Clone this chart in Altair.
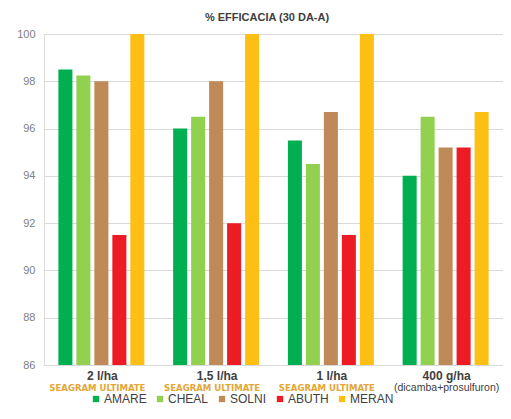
import altair as alt
import pandas as pd

groups = ["2 l/ha", "1,5 l/ha", "1  l/ha", "400 g/ha"]
sublabels = ["SEAGRAM ULTIMATE", "SEAGRAM ULTIMATE", "SEAGRAM ULTIMATE", "(dicamba+prosulfuron)"]
series = ["AMARE", "CHEAL", "SOLNI", "ABUTH", "MERAN"]
colors = ["#00b050", "#92d050", "#c08a58", "#ed1c24", "#fdbf14"]

amare = [98.5, 96.0, 95.5, 94.0]
cheal = [98.25, 96.5, 94.5, 96.5]
solni = [98.0, 98.0, 96.7, 95.2]
abuth = [91.5, 92.0, 91.5, 95.2]
meran = [100.0, 100.0, 100.0, 96.7]

vals = [amare, cheal, solni, abuth, meran]
rows = []
for s, v in zip(series, vals):
    for g, x in zip(groups, v):
        rows.append({"group": g, "series": s, "value": x, "base": 86})
df = pd.DataFrame(rows)
lab = pd.DataFrame({"group": groups, "sub": sublabels,
                    "subcolor": ["gold", "gold", "gold", "gray"]})

W, H = 459, 331

xscale = alt.Scale(domain=groups, paddingInner=0, paddingOuter=0)

bars = alt.Chart(df).mark_bar().encode(
    x=alt.X("group:N", scale=xscale, sort=groups, axis=None),
    xOffset=alt.XOffset("series:N", sort=series,
                        scale=alt.Scale(domain=series, paddingInner=0.22, paddingOuter=0.8)),
    y=alt.Y("value:Q", scale=alt.Scale(domain=[86, 100], zero=False, nice=False),
            axis=alt.Axis(values=list(range(86, 101, 2)), title=None, domain=False, ticks=False,
                          labelColor="#808080", labelFontSize=11, labelPadding=9,
                          labelFont="Liberation Sans", gridColor="#d9d9d9", gridWidth=1)),
    y2="base:Q",
    color=alt.Color("series:N", sort=series,
                    scale=alt.Scale(domain=series, range=colors),
                    legend=alt.Legend(title=None, orient="none", direction="horizontal",
                                      legendX=46, legendY=H + 28, symbolType="square",
                                      symbolSize=40, symbolStrokeWidth=0, labelFontSize=12,
                                      labelColor="#404040", labelFont="Liberation Sans",
                                      gridAlign="none", columnPadding=7, labelOffset=2,
                                      padding=0)),
)

line1 = alt.Chart(lab).mark_text(fontWeight="bold", fontSize=12, color="#404040",
                                 font="Liberation Sans", baseline="middle", dx=1).encode(
    x=alt.X("group:N", scale=xscale, sort=groups, axis=None),
    y=alt.value(H + 11),
    text="group:N",
)

sub_gold = alt.Chart(lab[lab.subcolor == "gold"]).mark_text(
    fontWeight="bold", fontSize=9.5, color="#e4a634", font="DejaVu Sans Condensed",
    baseline="middle", dx=-4).encode(
    x=alt.X("group:N", scale=xscale, sort=groups, axis=None),
    y=alt.value(H + 23),
    text="sub:N",
)
sub_gray = alt.Chart(lab[lab.subcolor == "gray"]).mark_text(
    fontSize=10.5, color="#404040", font="Liberation Sans", baseline="middle", dx=1).encode(
    x=alt.X("group:N", scale=xscale, sort=groups, axis=None),
    y=alt.value(H + 23),
    text="sub:N",
)

title = alt.Chart(pd.DataFrame({"t": ["% EFFICACIA (30 DA-A)"]})).mark_text(
    fontWeight="bold", fontSize=11, color="#404040", font="Liberation Sans", baseline="middle").encode(
    x=alt.value(223), y=alt.value(-16), text="t:N")

chart = alt.layer(bars, line1, sub_gold, sub_gray, title).properties(
    width=W, height=H,
    autosize=alt.AutoSizeParams(type="none"),
    padding={"left": 36, "top": 26, "right": 0, "bottom": 40},
).configure_view(stroke=None).configure(background="white")

chart.save("out.html", embed_options={"renderer": "svg", "actions": False})
